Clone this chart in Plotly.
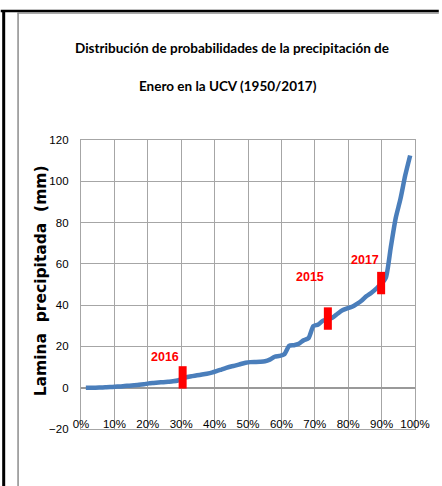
import plotly.graph_objects as go

# Probability of non-exceedance (%) and sorted January rainfall (mm), UCV 1950-2017
prob_pct = [1.45, 2.90, 4.35, 5.80, 7.25, 8.70, 10.14, 11.59, 13.04, 14.49,
            15.94, 17.39, 18.84, 20.29, 21.74, 23.19, 24.64, 26.09, 27.54, 28.99,
            30.43, 31.88, 33.33, 34.78, 36.23, 37.68, 39.13, 40.58, 42.03, 43.48,
            44.93, 46.38, 47.83, 49.28, 50.72, 52.17, 53.62, 55.07, 56.52, 57.97,
            59.42, 60.87, 62.32, 63.77, 65.22, 66.67, 68.12, 69.57, 71.01, 72.46,
            73.91, 75.36, 76.81, 78.26, 79.71, 81.16, 82.61, 84.06, 85.51, 86.96,
            88.41, 89.86, 91.30, 92.75, 94.20, 95.65, 97.10, 98.55]
rain_mm = [0.0, 0.0, 0.0, 0.1, 0.2, 0.3, 0.5, 0.6, 0.8, 1.0,
           1.2, 1.4, 1.7, 2.1, 2.3, 2.5, 2.7, 2.9, 3.1, 3.5,
           4.5, 5.2, 5.6, 6.0, 6.4, 6.8, 7.3, 8.0, 8.8, 9.6,
           10.3, 10.8, 11.5, 12.1, 12.4, 12.5, 12.6, 12.8, 13.6, 15.0,
           15.4, 16.2, 20.3, 20.6, 21.3, 23.0, 24.0, 29.8, 30.6, 32.5,
           33.2, 34.0, 35.8, 37.5, 38.4, 39.2, 40.6, 42.3, 44.4, 46.0,
           48.0, 50.2, 53.5, 68.0, 82.0, 91.5, 103.0, 112.5]

# Highlighted years
year_labels = ["2016", "2015", "2017"]
year_prob = [30.43, 73.91, 89.86]
year_rain = [5.0, 33.5, 50.7]

title_lines = ["Distribución de probabilidades de la precipitación de",
               "Enero en la UCV (1950/2017)"]
y_title = "Lamina  precipitada  (mm)"

TFONT = "Lato, Liberation Sans, sans-serif"
AFONT = "Liberation Sans, Arial, sans-serif"
GRID = "#A6A6A6"

fig = go.Figure()
fig.add_trace(go.Scatter(
    x=prob_pct, y=rain_mm, mode="lines",
    line=dict(color="#4A7EBB", width=4.5, shape="spline", smoothing=0.6),
    hoverinfo="skip", showlegend=False))
fig.add_trace(go.Scatter(
    x=year_prob, y=year_rain, mode="markers",
    marker=dict(symbol="line-ns-open", size=16, color="#FF0000",
                line=dict(color="#FF0000", width=8)),
    hoverinfo="skip", showlegend=False))

annotations = []
shifts = [(-18, 20), (-18, 42), (-16, 23)]
for lab, xv, yv, (dx, dy) in zip(year_labels, year_prob, year_rain, shifts):
    annotations.append(dict(x=xv, y=yv, xref="x", yref="y", text=lab,
                            showarrow=False, xshift=dx, yshift=dy,
                            font=dict(family=AFONT, size=12.5, color="#FF0000", weight="bold")))

def px_x(px):
    return (px - 81) / 337.0

def px_y(py):
    return (429 - py) / 289.0

annotations.append(dict(x=px_x(233), y=px_y(48), xref="paper", yref="paper",
                        text=title_lines[0], showarrow=False,
                        xanchor="center", yanchor="middle",
                        font=dict(family=TFONT, size=13.5, color="#000000", weight="bold")))
annotations.append(dict(x=px_x(229), y=px_y(86), xref="paper", yref="paper",
                        text=title_lines[1], showarrow=False,
                        xanchor="center", yanchor="middle",
                        font=dict(family=TFONT, size=13.5, color="#000000", weight="bold")))
annotations.append(dict(x=px_x(41), y=px_y(281), xref="paper", yref="paper",
                        text=y_title, showarrow=False, textangle=-90,
                        xanchor="center", yanchor="middle",
                        font=dict(family="DejaVu Sans, sans-serif", size=15.5,
                                  color="#000000", weight="bold")))

shapes = [
    dict(type="line", xref="paper", yref="paper", x0=px_x(0), x1=px_x(442),
         y0=px_y(11), y1=px_y(11), line=dict(color="#000000", width=2.5)),
    dict(type="line", xref="paper", yref="paper", x0=px_x(3), x1=px_x(3),
         y0=px_y(10), y1=px_y(490), line=dict(color="#000000", width=3)),
    dict(type="line", xref="paper", yref="paper", x0=px_x(17.5), x1=px_x(17.5),
         y0=px_y(12.5), y1=px_y(490), line=dict(color="#8C8C8C", width=1.5)),
    dict(type="line", xref="paper", yref="paper", x0=px_x(17), x1=px_x(442),
         y0=px_y(13), y1=px_y(13), line=dict(color="#8C8C8C", width=1.5)),
]

fig.update_layout(
    width=442, height=486,
    margin=dict(l=81, r=24, t=140, b=57),
    paper_bgcolor="#FFFFFF", plot_bgcolor="#FFFFFF",
    showlegend=False,
    annotations=annotations, shapes=shapes,
    xaxis=dict(range=[0, 100], dtick=10, tick0=0, ticksuffix="%",
               showgrid=True, gridcolor=GRID, gridwidth=1.3,
               zeroline=False, showline=True, linecolor=GRID, linewidth=1.3, mirror=True,
               ticks="", ticklabelstandoff=-16,
               tickfont=dict(family=AFONT, size=11.5, color="#000000")),
    yaxis=dict(range=[-20, 120], dtick=20, tick0=-20,
               showgrid=True, gridcolor=GRID, gridwidth=1.3,
               zeroline=True, zerolinecolor="#999999", zerolinewidth=1.5,
               showline=True, linecolor=GRID, linewidth=1.3, mirror=True,
               ticks="", ticklabelstandoff=9,
               tickfont=dict(family=AFONT, size=11.5, color="#000000")),
)

fig.write_html("out.html", config={"displayModeBar": False},
               post_script="document.body.style.margin='0';")
